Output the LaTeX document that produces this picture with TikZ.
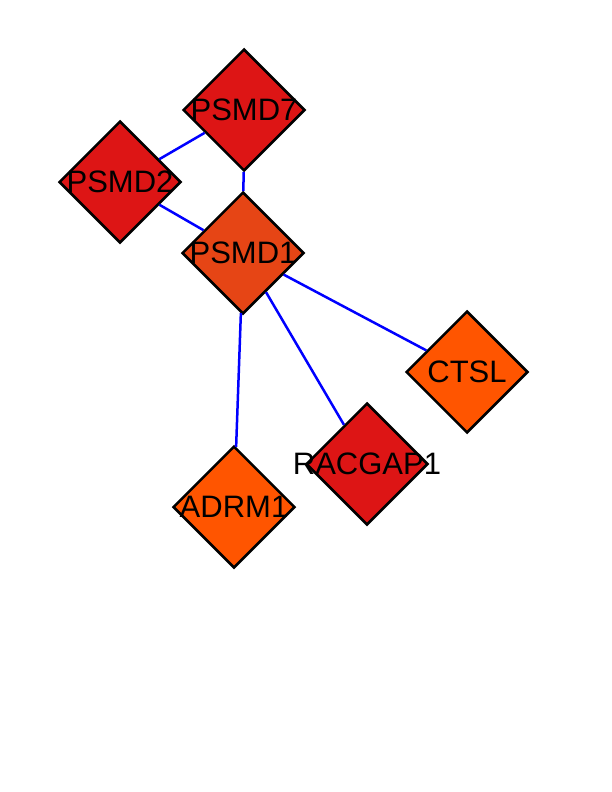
\documentclass[tikz,border=0pt]{standalone}
\usepackage{fontspec}
\setmainfont{Liberation Sans}
\usetikzlibrary{shapes.geometric}

\definecolor{genered}{HTML}{DD1515}
\definecolor{genemid}{HTML}{E64515}
\definecolor{geneorange}{HTML}{FF5500}
\tikzset{gene/.style={diamond,draw=black,line width=2.5pt,inner sep=0pt,minimum width=122pt,minimum height=122pt,label={[font=\fontsize{31}{31}\selectfont,inner sep=0pt]center:#1}},
  link/.style={draw=blue,line width=2.5pt}}

\begin{document}
\begin{tikzpicture}[x=1pt,y=1pt]
  \useasboundingbox (0,0) rectangle (612,-792);
  \node[gene=PSMD7,fill=genered] (psmd7) at (244,-110) {};
  \node[gene=PSMD2,fill=genered] (psmd2) at (120,-182) {};
  \node[gene=PSMD1,fill=genemid] (psmd1) at (243,-253) {};
  \node[gene=CTSL,fill=geneorange] (ctsl) at (467,-372) {};
  \node[gene=RACGAP1,fill=genered] (racgap1) at (367,-464) {};
  \node[gene=ADRM1,fill=geneorange] (adrm1) at (234,-507) {};
  \draw[link] (psmd7) -- (psmd2);
  \draw[link] (psmd7) -- (psmd1);
  \draw[link] (psmd2) -- (psmd1);
  \draw[link] (psmd1) -- (ctsl);
  \draw[link] (psmd1) -- (racgap1);
  \draw[link] (psmd1) -- (adrm1);
\end{tikzpicture}
\end{document}
